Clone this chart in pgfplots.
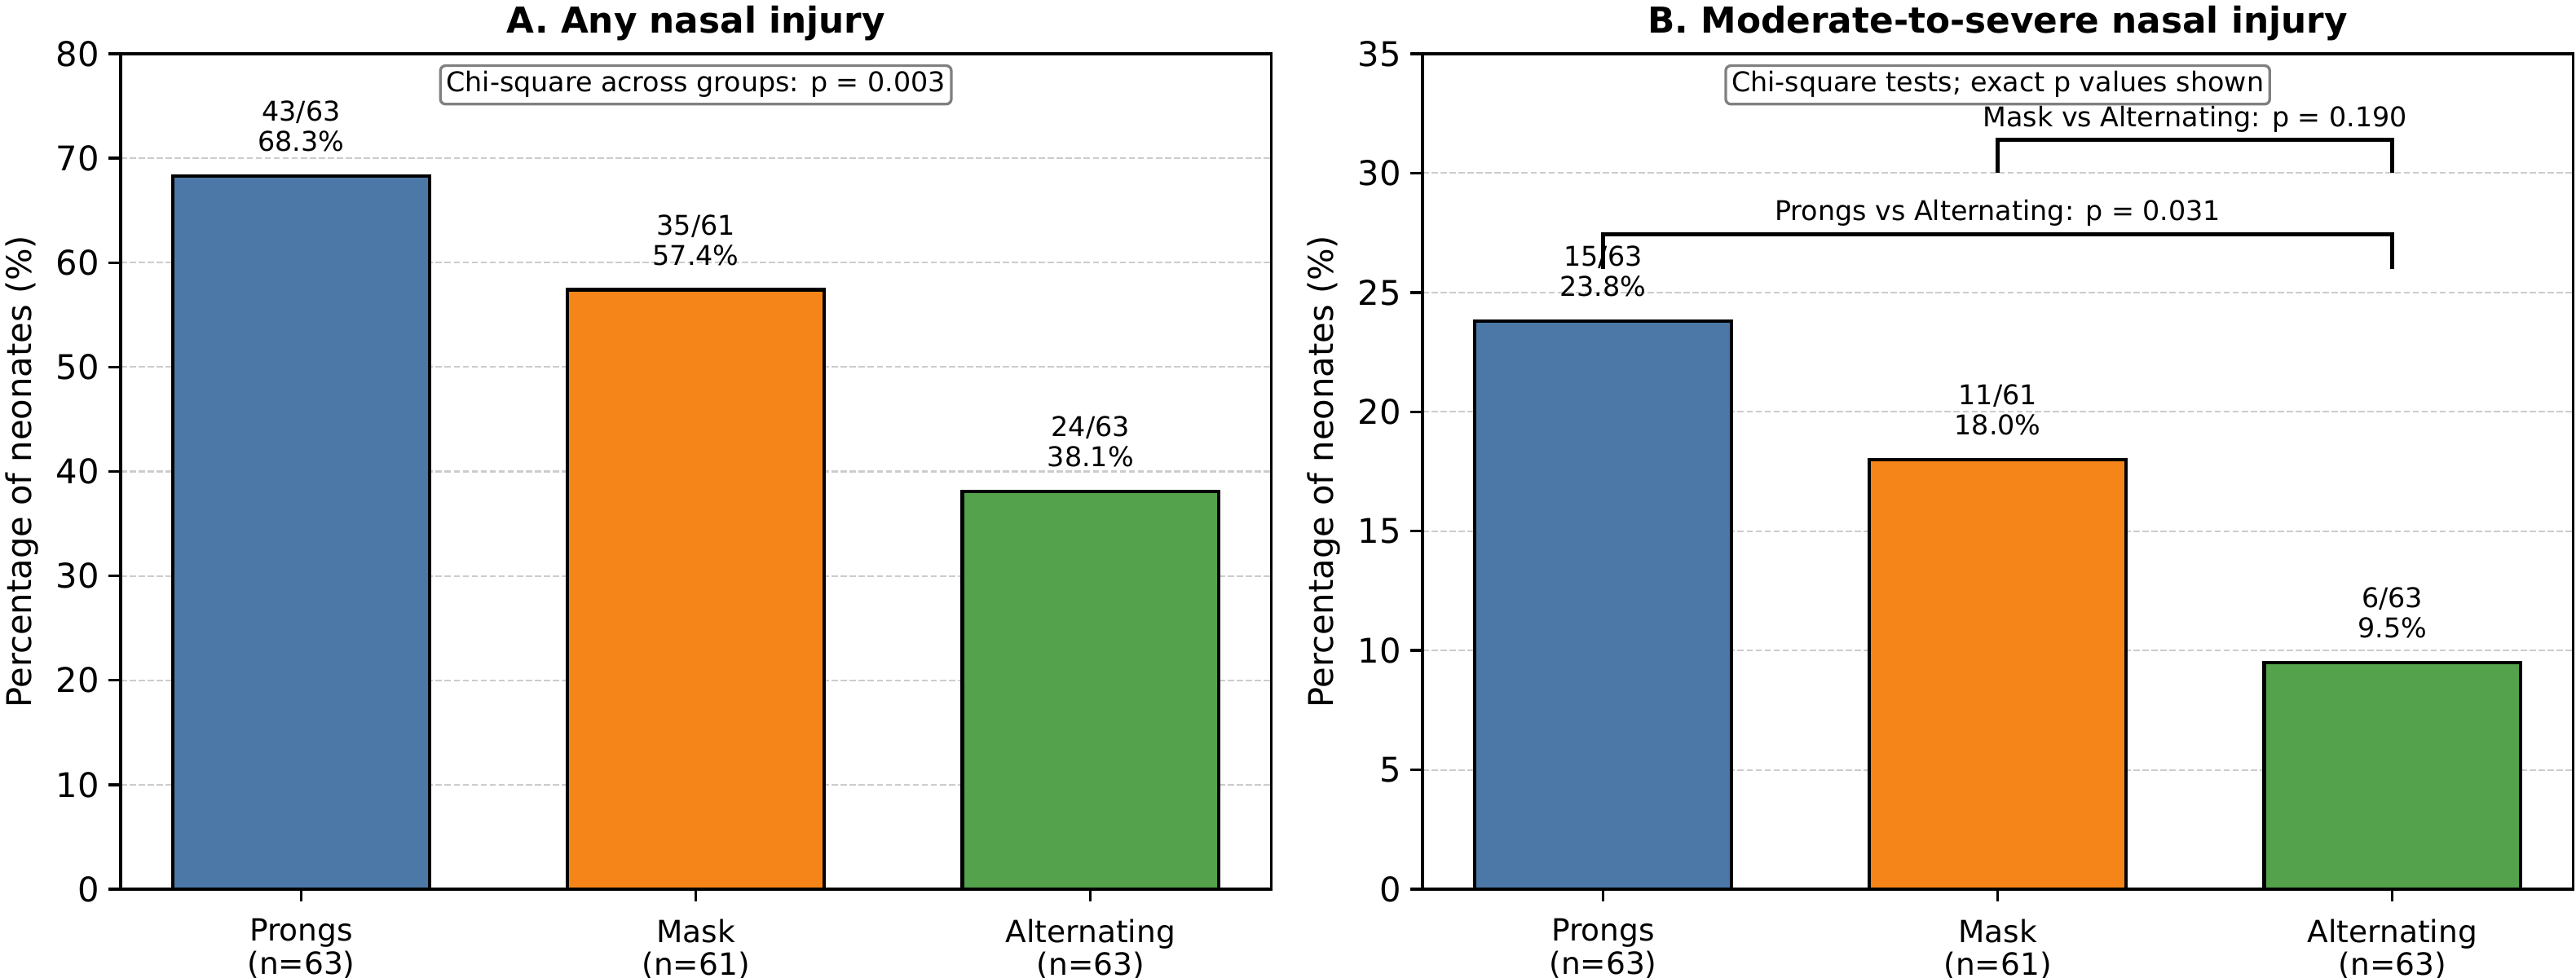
\documentclass[border=0pt]{standalone}
\usepackage{fontspec}
\setmainfont{DejaVu Sans}
\usepackage{pgfplots}
\pgfplotsset{compat=1.18}

\definecolor{cblue}{HTML}{4C78A8}
\definecolor{corange}{HTML}{F58518}
\definecolor{cgreen}{HTML}{54A24B}

\newcommand{\fe}{\fontsize{8}{9.6}\selectfont}

\tikzset{
  barlab/.style={font=\fe, anchor=base, inner sep=0pt},
  pbox/.style={font=\fe, anchor=north, draw=black!50, fill=white, rounded corners=1.5pt, line width=0.8pt,
    inner xsep=1.7pt, inner ysep=1.9pt, text height=5.83pt, text depth=1.7pt, yshift=-3.1pt},
}

\pgfplotsset{
  myaxis/.style={
    scale only axis, width=338.7pt, height=246pt,
    xmin=-0.4575, xmax=2.4575, ymin=0,
    axis line style={line width=0.8pt},
    tick style={line width=0.8pt, black},
    major tick length=3.5pt,
    tick align=outside,
    xtick pos=bottom, ytick pos=left,
    xtick={0,1,2},
    xticklabels={{Prongs\\(n=63)},{Mask\\(n=61)},{Alternating\\(n=63)}},
    xticklabel style={align=center, font=\fontsize{9}{9.7}\selectfont, inner sep=0pt, anchor=north, yshift=-5.1pt},
    yticklabel style={font=\fontsize{10}{12}\selectfont, inner sep=0pt, anchor=east, xshift=-2.6pt},
    /pgf/number format/assume math mode=true,
    ymajorgrids,
    grid style={black!20, line width=0.5pt, dash pattern=on 1.85pt off 0.8pt},
    ylabel={Percentage of neonates (\%)},
    ylabel style={font=\fontsize{10}{12}\selectfont, at={(axis description cs:0,0.5)}, anchor=base, yshift=26.2pt},
    every axis title/.style={font=\bfseries\fontsize{10.5}{12.6}\selectfont, at={(axis description cs:0.5,1)}, anchor=base, yshift=6.2pt},
    ybar, bar width=0.65, bar shift=0pt,
    clip=false,
  },
}

\begin{document}
\begin{tikzpicture}
\useasboundingbox (0,0) rectangle (758.4pt,288pt);

% Panel A
\begin{axis}[myaxis, at={(35.52pt,26.16pt)}, anchor=south west,
  ymax=80, ytick={0,10,...,80},
  title={A. Any nasal injury}]
\addplot[fill=cblue, draw=black, line width=1pt] coordinates {(0,68.3)};
\addplot[fill=corange, draw=black, line width=1pt] coordinates {(1,57.4)};
\addplot[fill=cgreen, draw=black, line width=1pt] coordinates {(2,38.1)};
\node[barlab, yshift=16.2pt] at (axis cs:0,68.3) {43/63};
\node[barlab, yshift=7.2pt] at (axis cs:0,68.3) {68.3\%};
\node[barlab, yshift=16.2pt] at (axis cs:1,57.4) {35/61};
\node[barlab, yshift=7.2pt] at (axis cs:1,57.4) {57.4\%};
\node[barlab, yshift=16.2pt] at (axis cs:2,38.1) {24/63};
\node[barlab, yshift=7.2pt] at (axis cs:2,38.1) {38.1\%};
\node[pbox] at (axis description cs:0.5,1) {Chi-square across groups: p = 0.003};
\end{axis}

% Panel B
\begin{axis}[myaxis, at={(418.8pt,26.16pt)}, anchor=south west,
  ymax=35, ytick={0,5,...,35},
  title={B. Moderate-to-severe nasal injury}]
\addplot[fill=cblue, draw=black, line width=1pt] coordinates {(0,23.8)};
\addplot[fill=corange, draw=black, line width=1pt] coordinates {(1,18.0)};
\addplot[fill=cgreen, draw=black, line width=1pt] coordinates {(2,9.5)};
\addplot[sharp plot, draw=black, line width=1.2pt, mark=none] coordinates {(1,30) (1,31.4) (2,31.4) (2,30)};
\addplot[sharp plot, draw=black, line width=1.2pt, mark=none] coordinates {(0,26) (0,27.45) (2,27.45) (2,26)};
\node[barlab, yshift=16.2pt] at (axis cs:0,23.8) {15/63};
\node[barlab, yshift=7.2pt] at (axis cs:0,23.8) {23.8\%};
\node[barlab, yshift=16.2pt] at (axis cs:1,18.0) {11/61};
\node[barlab, yshift=7.2pt] at (axis cs:1,18.0) {18.0\%};
\node[barlab, yshift=16.2pt] at (axis cs:2,9.5) {6/63};
\node[barlab, yshift=7.2pt] at (axis cs:2,9.5) {9.5\%};
\node[barlab] at (axis cs:1.5,31.96) {Mask vs Alternating: p = 0.190};
\node[barlab] at (axis cs:1,28.0) {Prongs vs Alternating: p = 0.031};
\node[pbox] at (axis description cs:0.5,1) {Chi-square tests; exact p values shown};
\end{axis}
\end{tikzpicture}
\end{document}
